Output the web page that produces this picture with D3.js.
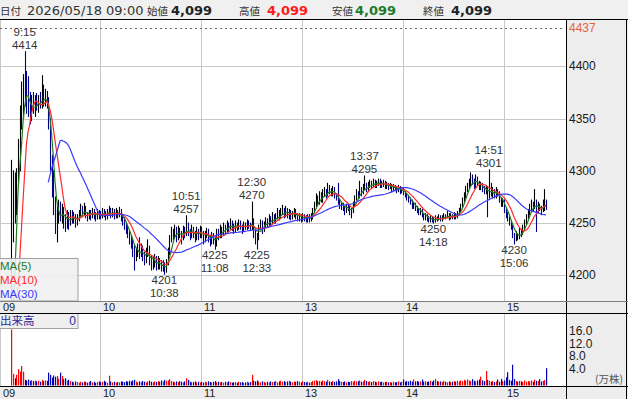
<!DOCTYPE html>
<html><head><meta charset="utf-8">
<script src="https://cdn.jsdelivr.net/npm/d3@7"></script>
<style>body{margin:0;background:#fff}svg{display:block}</style>
</head><body><svg id="c" width="628" height="399"></svg>
<script>
// ---- data (1-minute bars, index 0 = 09:00, 150 = 12:30) ----
const closes = [
4099,4099,4099,4099,4099,4099,4099,4240,4280,4265,
4295,4320,4355,4378,4385,4372,4365,4360,4352,4368,
4358,4366,4362,4368,4364,4372,4368,4370,4365,4345,
4310,4285,4262,4248,4255,4265,4258,4262,4250,4248,
4256,4252,4258,4254,4256,4250,4255,4258,4262,4260,
4264,4258,4256,4259,4257,4261,4258,4255,4260,4258,
4257,4261,4259,4256,4260,4262,4258,4261,4257,4260,
4258,4262,4255,4252,4248,4245,4240,4236,4232,4226,
4218,4222,4226,4220,4224,4218,4215,4220,4226,4214,
4210,4212,4216,4208,4213,4210,4207,4209,4204,4212,
4222,4235,4240,4238,4244,4236,4242,4240,4235,4244,
4240,4248,4242,4238,4244,4240,4236,4242,4238,4244,
4240,4235,4238,4242,4236,4232,4238,4234,4230,4240,
4238,4244,4240,4246,4244,4248,4245,4250,4247,4244,
4248,4246,4250,4246,4244,4248,4246,4250,4248,4246,
4252,4240,4238,4236,4246,4250,4244,4248,4252,4250,
4254,4250,4256,4252,4255,4258,4256,4260,4262,4258,
4262,4258,4260,4256,4258,4262,4257,4255,4256,4254,
4257,4255,4253,4256,4254,4257,4262,4268,4274,4270,
4276,4272,4278,4280,4276,4284,4280,4278,4282,4276,
4274,4270,4266,4268,4264,4262,4266,4264,4260,4262,
4268,4274,4278,4276,4282,4280,4284,4286,4282,4286,
4288,4286,4290,4286,4288,4290,4287,4286,4289,4285,
4287,4284,4286,4282,4285,4283,4281,4284,4280,4282,
4279,4277,4274,4272,4270,4266,4268,4264,4262,4260,
4262,4258,4255,4257,4254,4252,4255,4253,4252,4255,
4254,4256,4253,4255,4257,4256,4258,4255,4257,4256,
4258,4256,4259,4262,4266,4272,4276,4282,4285,4288,
4292,4290,4286,4292,4288,4284,4286,4282,4280,4284,
4276,4282,4278,4280,4276,4280,4278,4272,4268,4270,
4262,4258,4254,4250,4246,4240,4236,4238,4236,4242,
4240,4246,4250,4256,4260,4264,4268,4266,4270,4262,
4266,4264,4262,4268,4270,4268];
const highs = [
4099,4099,4099,4099,4099,4099,4099,4310,4300,4298,
4302,4330,4362,4385,4392,4414,4395,4390,4375,4372,
4375,4372,4374,4372,4375,4391,4382,4378,4376,4370,
4350,4315,4300,4275,4268,4272,4270,4268,4265,4258,
4262,4260,4262,4262,4260,4258,4258,4262,4268,4266,
4269,4266,4260,4262,4262,4264,4263,4260,4263,4262,
4261,4264,4263,4261,4263,4266,4264,4264,4263,4264,
4262,4265,4263,4258,4255,4250,4248,4242,4238,4234,
4228,4226,4230,4236,4230,4228,4222,4226,4234,4228,
4218,4218,4220,4218,4218,4216,4214,4214,4212,4215,
4226,4238,4246,4244,4248,4246,4247,4245,4242,4247,
4246,4257,4250,4244,4248,4246,4242,4246,4244,4247,
4246,4242,4242,4245,4244,4238,4241,4240,4236,4244,
4244,4248,4246,4250,4248,4252,4250,4254,4252,4249,
4252,4250,4253,4252,4248,4251,4250,4253,4252,4250,
4270,4254,4244,4240,4248,4253,4252,4251,4255,4254,
4258,4256,4260,4258,4259,4264,4262,4264,4267,4264,
4266,4264,4263,4262,4261,4264,4263,4259,4259,4258,
4259,4258,4257,4258,4258,4259,4264,4270,4278,4276,
4280,4279,4282,4284,4282,4288,4286,4283,4285,4284,
4278,4288,4272,4270,4269,4266,4268,4268,4266,4264,
4270,4276,4282,4280,4290,4284,4287,4295,4288,4289,
4291,4290,4292,4291,4290,4292,4292,4290,4291,4290,
4289,4288,4288,4287,4287,4286,4285,4286,4285,4284,
4283,4280,4278,4276,4274,4272,4270,4269,4266,4264,
4264,4263,4259,4259,4258,4256,4257,4256,4255,4257,
4256,4258,4257,4257,4259,4258,4261,4259,4259,4258,
4260,4259,4261,4264,4268,4274,4279,4285,4288,4292,
4298,4296,4292,4296,4294,4290,4289,4288,4285,4286,
4285,4301,4288,4284,4282,4284,4282,4280,4274,4273,
4272,4264,4260,4256,4252,4248,4240,4242,4240,4245,
4244,4248,4253,4258,4263,4268,4272,4270,4282,4272,
4270,4268,4266,4272,4282,4272];
const lows = [
4099,4099,4099,4099,4099,4099,4099,4099,4232,4250,
4258,4290,4300,4340,4350,4362,4355,4352,4345,4348,
4355,4352,4358,4356,4360,4360,4362,4362,4360,4340,
4300,4275,4258,4240,4232,4250,4252,4250,4245,4242,
4245,4244,4248,4250,4250,4246,4248,4252,4256,4256,
4258,4255,4252,4254,4253,4255,4254,4252,4254,4254,
4254,4255,4256,4253,4254,4258,4255,4256,4254,4255,
4255,4256,4252,4248,4244,4240,4236,4230,4226,4218,
4205,4214,4218,4216,4218,4214,4210,4212,4218,4210,
4205,4206,4208,4205,4206,4206,4204,4204,4201,4203,
4210,4220,4232,4234,4236,4232,4234,4236,4230,4234,
4236,4238,4238,4234,4236,4236,4232,4234,4234,4236,
4236,4230,4232,4236,4232,4228,4230,4230,4225,4228,
4234,4236,4236,4238,4240,4242,4242,4244,4243,4240,
4242,4243,4244,4244,4240,4242,4244,4244,4245,4243,
4244,4236,4230,4225,4234,4244,4240,4242,4246,4246,
4248,4247,4249,4250,4250,4254,4253,4255,4258,4255,
4256,4255,4254,4253,4254,4256,4254,4252,4252,4251,
4252,4252,4251,4251,4251,4252,4254,4260,4266,4268,
4268,4270,4270,4276,4274,4276,4278,4276,4276,4274,
4272,4268,4264,4263,4262,4258,4260,4262,4258,4255,
4260,4266,4272,4274,4274,4276,4278,4282,4280,4280,
4284,4284,4285,4284,4284,4286,4284,4284,4285,4283,
4283,4282,4283,4280,4281,4281,4279,4280,4278,4279,
4277,4275,4272,4270,4268,4264,4264,4262,4260,4258,
4258,4256,4253,4253,4252,4251,4251,4251,4250,4251,
4252,4253,4252,4252,4254,4254,4255,4253,4254,4254,
4254,4254,4255,4258,4261,4265,4270,4274,4280,4283,
4286,4287,4283,4284,4286,4282,4282,4280,4278,4278,
4256,4274,4276,4274,4274,4274,4276,4270,4266,4266,
4260,4255,4252,4248,4244,4236,4230,4233,4234,4235,
4237,4239,4244,4249,4254,4258,4262,4262,4264,4242,
4260,4262,4258,4261,4262,4263];
const volumes = [
0,0,0,0,0,0,0,17.8,3.7,2.3,
3.4,5.2,4.4,6.2,4.4,1.8,1.6,1.9,1.5,1.7,
1.4,1.6,1.3,1.5,1.2,1.8,1.4,1.6,1.5,4.1,
3.4,2.5,3.2,2.8,3.0,2.2,4.1,3.0,2.0,2.3,
1.6,1.8,1.4,1.2,1.0,1.3,1.1,0.9,1.2,1.0,
1.3,1.1,0.9,1.2,1.4,1.0,1.2,0.8,1.1,1.3,
1.0,1.2,1.5,1.1,0.9,3.1,1.3,1.0,1.2,0.9,
1.1,1.0,1.3,1.2,1.1,1.4,1.2,1.5,1.3,1.6,
1.8,1.2,1.0,1.3,1.1,1.4,1.2,1.0,1.3,1.5,
1.2,1.0,1.3,1.1,1.4,1.2,1.6,1.3,1.8,1.5,
1.6,2.0,1.4,1.2,1.0,1.3,1.1,1.4,1.2,1.0,
1.3,2.3,1.8,1.2,1.0,1.1,1.3,0.9,1.2,1.0,
1.1,0.9,1.2,1.0,1.3,1.1,0.9,1.2,1.4,1.0,
1.2,1.0,1.1,0.9,1.2,1.0,1.3,1.1,0.9,1.0,
1.1,0.9,1.2,1.0,1.1,0.8,1.0,1.2,0.9,1.1,
3.4,1.5,1.3,1.6,1.2,1.0,1.3,1.1,0.9,1.2,
1.0,1.3,1.1,1.2,1.4,1.0,1.3,1.5,1.2,1.4,
1.1,1.3,1.5,1.2,1.0,1.3,1.1,1.4,1.2,1.0,
1.3,1.1,1.0,1.2,0.9,1.1,1.4,1.5,1.7,1.3,
1.5,1.2,1.6,1.4,1.2,1.8,1.3,1.1,1.4,1.2,
1.3,2.0,1.4,1.2,1.1,1.3,1.0,1.2,1.1,1.4,
1.2,1.5,1.3,1.4,1.6,1.2,1.3,1.8,1.4,1.2,
1.3,1.1,1.4,1.2,1.0,1.3,1.1,1.2,1.0,1.1,
1.2,1.0,1.1,0.9,1.2,1.0,1.1,1.3,1.0,1.2,
1.9,1.2,1.4,1.3,1.5,1.2,1.9,1.3,1.4,1.2,
1.3,1.9,1.2,1.4,1.1,1.3,1.5,1.2,1.6,2.1,
1.4,1.2,1.3,1.1,1.5,1.2,1.0,1.3,1.1,1.2,
1.4,1.2,1.5,1.3,1.6,1.4,1.8,1.5,1.9,1.6,
1.4,2.0,1.5,1.3,1.6,1.9,2.8,1.6,1.4,4.6,
1.8,1.5,1.2,1.4,1.1,1.3,1.9,1.2,2.1,1.4,
1.6,2.6,4.2,1.8,1.5,6.6,2.0,1.4,1.2,1.5,
1.3,1.1,1.6,1.2,1.4,1.3,1.6,1.2,1.8,1.5,
1.4,2.0,1.3,1.5,1.7,5.5];

const timeTickIdx = [0, 60, 120, 180, 240, 300];
const timeTickLabels = ["09", "10", "11", "13", "14", "15"];
const priceTicks = [4200, 4250, 4300, 4350, 4400];
const volTicks = [4, 8, 12, 16];
const limitPrice = 4437;

const annIdx   = [15, 98, 111, 128, 150, 153, 217, 258, 291, 306];
const annTime  = ["9:15","10:38","10:51","11:08","12:30","12:33","13:37","14:18","14:51","15:06"];
const annPrice = [4414, 4201, 4257, 4225, 4270, 4225, 4295, 4250, 4301, 4230];
const annKind  = ["H","L","H","L","H","L","H","L","H","L"];

const maPeriods = [5, 10, 30];
const maNames = ["MA(5)", "MA(10)", "MA(30)"];
const maColors = ["#1f7a1f", "#ff2a2a", "#3a3aff"];

const headerItems = [
  {t:"日付", x:0, cls:"jp"}, {t:"2026/05/18 09:00", x:27, cls:"num"},
  {t:"始値", x:147, cls:"jp"}, {t:"4,099", x:171, cls:"val", c:"#222"},
  {t:"高値", x:239, cls:"jp"}, {t:"4,099", x:267, cls:"val", c:"#ff1a1a"},
  {t:"安値", x:332, cls:"jp"}, {t:"4,099", x:355, cls:"val", c:"#1e7a28"},
  {t:"終値", x:423, cls:"jp"}, {t:"4,099", x:451, cls:"val", c:"#222"}
];

// ---- layout ----
const svg = d3.select("#c");
const PX0 = 0, PX1 = 566, PY0 = 20, PY1 = 301;
const VY0 = 313, VY1 = 386;
const RX1 = 626;
const LAB = "'Liberation Sans', Arial, sans-serif";

const x = d3.scaleLinear().domain([0, 300]).range([-0.5, 504]);
const y = d3.scaleLinear().domain([4200, 4400]).range([275.3, 66.3]);
const vy = d3.scaleLinear().domain([0, 16]).range([385.5, 335.1]);

// backgrounds
svg.append("rect").attr("x",0).attr("y",0).attr("width",628).attr("height",399).attr("fill","#fff");
svg.append("rect").attr("x",0).attr("y",0).attr("width",628).attr("height",19).attr("fill","#f0f0f0");
svg.append("rect").attr("x",PX1).attr("y",PY0).attr("width",628-PX1).attr("height",399-PY0).attr("fill","#ededed");
svg.append("rect").attr("x",0).attr("y",PY1).attr("width",628).attr("height",VY0-PY1).attr("fill","#ededed");
svg.append("rect").attr("x",0).attr("y",VY1).attr("width",628).attr("height",399-VY1).attr("fill","#ededed");

// clip paths
const defs = svg.append("defs");
defs.append("clipPath").attr("id","pc").append("rect").attr("x",PX0).attr("y",PY0).attr("width",PX1-PX0).attr("height",PY1-PY0);
defs.append("clipPath").attr("id","vc").append("rect").attr("x",PX0).attr("y",VY0).attr("width",PX1-PX0).attr("height",VY1-VY0);

// grid
const grid = svg.append("g").attr("stroke","#c8c8c8").attr("stroke-width",1);
priceTicks.forEach(p => {
  const yy = Math.round(y(p)) + 0.5;
  grid.append("line").attr("x1",PX0).attr("x2",PX1).attr("y1",yy).attr("y2",yy);
});
timeTickIdx.forEach(i => {
  const xx = Math.round(x(i)) + 0.5;
  grid.append("line").attr("x1",xx).attr("x2",xx).attr("y1",PY0).attr("y2",PY1);
  grid.append("line").attr("x1",xx).attr("x2",xx).attr("y1",VY0).attr("y2",VY1);
});
// limit dotted line
const ly = Math.round(y(limitPrice)) + 0.5;
svg.append("line").attr("x1",PX0).attr("x2",PX1-3).attr("y1",ly).attr("y2",ly)
  .attr("stroke","#666").attr("stroke-dasharray","2,3");

// candles
const pg = svg.append("g").attr("clip-path","url(#pc)");
const bars = closes.map((c, i) => {
  const o = i > 0 ? closes[i-1] : c;
  return {i, o, c, h: Math.max(highs[i], o, c), l: Math.min(lows[i], o, c), v: volumes[i]};
});
pg.selectAll("line.cd").data(bars).join("line").attr("class","cd")
  .attr("x1", d => Math.round(x(d.i)) + 0.5).attr("x2", d => Math.round(x(d.i)) + 0.5)
  .attr("y1", d => y(d.h) - 0.5).attr("y2", d => y(d.l) + 0.5)
  .attr("stroke", d => d.c < d.o ? "#00008c" : "#000").attr("stroke-width", 1.1);

// moving averages
maPeriods.forEach((n, k) => {
  const pts = [];
  for (let i = n - 1; i < closes.length; i++) {
    pts.push([i, d3.mean(closes.slice(i - n + 1, i + 1))]);
  }
  pg.append("path").datum(pts)
    .attr("d", d3.line().x(d => x(d[0])).y(d => y(d[1])))
    .attr("fill","none").attr("stroke", maColors[k]).attr("stroke-width", 1.2);
});

// annotations
const ag = svg.append("g").attr("font-family", LAB).attr("font-size", 11.5).attr("fill","#333").attr("text-anchor","middle");
annIdx.forEach((i, k) => {
  const cx = x(i);
  const py = y(annPrice[k]);
  if (annKind[k] === "H") {
    ag.append("text").attr("x",cx).attr("y",py - 3).text(annPrice[k]);
    ag.append("text").attr("x",cx).attr("y",py - 16).text(annTime[k]);
  } else {
    ag.append("text").attr("x",cx).attr("y",py + 10).text(annPrice[k]);
    ag.append("text").attr("x",cx).attr("y",py + 23).text(annTime[k]);
  }
});

// volume bars
const vg = svg.append("g").attr("clip-path","url(#vc)");
vg.selectAll("rect").data(bars.filter(d => d.v > 0)).join("rect")
  .attr("x", d => Math.round(x(d.i)))
  .attr("width", 1.2)
  .attr("y", d => vy(d.v)).attr("height", d => vy(0) - vy(d.v))
  .attr("fill", d => d.c > d.o ? "#ff0000" : (d.c < d.o ? "#0000b4" : "#999"));

// legend box (MA)
const lg = svg.append("g");
lg.append("rect").attr("x",-1).attr("y",258.5).attr("width",79).attr("height",PY1-258.5)
  .attr("fill","#f0f0f0").attr("fill-opacity",0.88).attr("stroke","#a0a0a0");
maNames.forEach((t, k) => {
  lg.append("text").attr("x",0).attr("y",270 + k*14).attr("font-family",LAB).attr("font-size",11.5)
    .attr("fill", maColors[k]).text(t);
});

// volume label box
const vb = svg.append("g");
vb.append("rect").attr("x",-1).attr("y",VY0+0.5).attr("width",79).attr("height",15)
  .attr("fill","#efefef").attr("stroke","#a0a0a0");
vb.append("text").attr("x",0).attr("y",VY0+12).attr("font-family","'Noto Sans CJK JP', sans-serif")
  .attr("font-size",11.5).attr("fill","#2a2a9a").text("出来高");
vb.append("text").attr("x",76).attr("y",VY0+12).attr("text-anchor","end").attr("font-family",LAB)
  .attr("font-size",12).attr("fill","#2a2a9a").text("0");

// borders
const bd = svg.append("g").attr("stroke","#000").attr("stroke-width",1);
bd.append("line").attr("x1",0).attr("x2",628).attr("y1",19.5).attr("y2",19.5);
bd.append("line").attr("x1",PX1+0.5).attr("x2",PX1+0.5).attr("y1",20).attr("y2",399);
bd.append("line").attr("x1",RX1+0.5).attr("x2",RX1+0.5).attr("y1",20).attr("y2",399);
bd.append("line").attr("x1",0).attr("x2",628).attr("y1",PY1+0.5).attr("y2",PY1+0.5).attr("stroke","#808080");
bd.append("line").attr("x1",0).attr("x2",628).attr("y1",VY0+0.5).attr("y2",VY0+0.5);
bd.append("line").attr("x1",0).attr("x2",628).attr("y1",VY1+0.5).attr("y2",VY1+0.5);

// right price axis
const ra = svg.append("g").attr("font-family",LAB).attr("font-size",12).attr("fill","#1a1a1a");
priceTicks.forEach(p => {
  ra.append("text").attr("x",569).attr("y",y(p)).attr("dominant-baseline","central").text(p);
});
ra.append("text").attr("x",569).attr("y",y(limitPrice)).attr("dominant-baseline","central")
  .attr("fill","#e8603c").text(limitPrice);

// right volume axis
volTicks.forEach(v => {
  ra.append("text").attr("x",569).attr("y",vy(v)).text(v.toFixed(1));
});
ra.append("text").attr("x",623).attr("y",383).attr("text-anchor","end")
  .attr("font-family","'Noto Sans CJK JP', sans-serif").attr("font-size",10.5).attr("fill","#555").text("(万株)");

// time axis labels (both strips)
const ta = svg.append("g").attr("font-family",LAB).attr("font-size",11).attr("fill","#222");
timeTickIdx.forEach((i, k) => {
  const xx = Math.round(x(i)) + 3;
  ta.append("text").attr("x",xx).attr("y",311).text(timeTickLabels[k]);
  ta.append("text").attr("x",xx).attr("y",397).text(timeTickLabels[k]);
});

// header
const hg = svg.append("g");
headerItems.forEach(it => {
  const t = hg.append("text").attr("x",it.x).attr("y",15).text(it.t);
  if (it.cls === "jp") t.attr("font-family","'Noto Sans CJK JP', sans-serif").attr("font-size",10.5).attr("fill","#333");
  else if (it.cls === "num") t.attr("font-family","'DejaVu Sans', sans-serif").attr("font-size",13).attr("fill","#333");
  else t.attr("font-family","'DejaVu Sans', sans-serif").attr("font-size",13).attr("font-weight","bold").attr("fill",it.c);
});
</script>
</body></html>
